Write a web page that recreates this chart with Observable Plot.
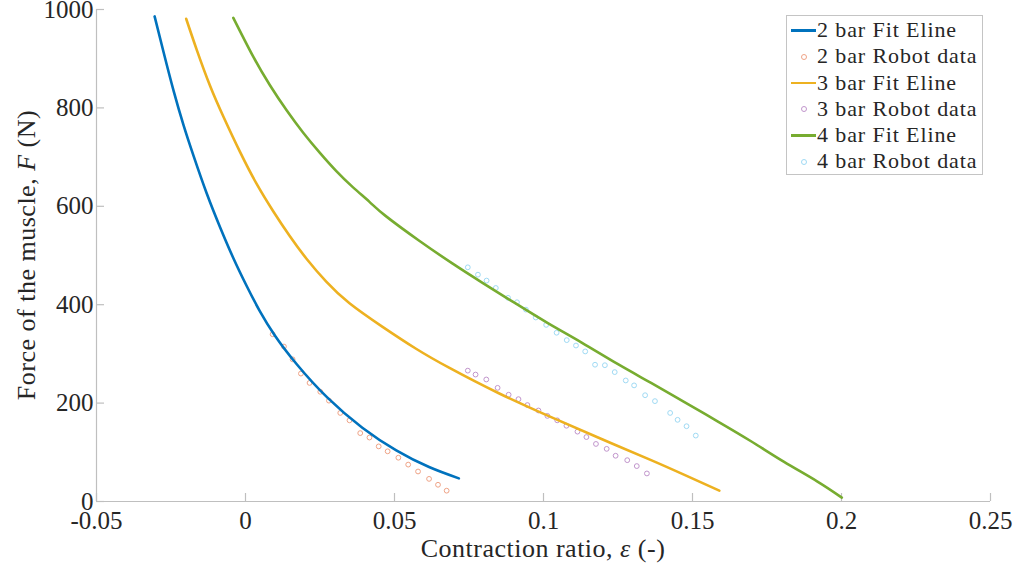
<!DOCTYPE html>
<html>
<head>
<meta charset="utf-8">
<script src="https://cdn.jsdelivr.net/npm/d3@7"></script>
<script src="https://cdn.jsdelivr.net/npm/@observablehq/plot@0.6"></script>
<style>
  body { margin: 0; background: #fff; }
  #wrap { position: relative; width: 1016px; height: 573px; font-family: "Liberation Serif", "Times New Roman", Tinos, "DejaVu Serif", serif; color: #262626; }
  .lab { position: absolute; white-space: nowrap; font-size: 26px; letter-spacing: 0.5px; }
  #xlab { left: 543px; top: 549px; transform: translate(-50%, -50%); }
  #ylab { left: 27px; top: 255px; transform: translate(-50%, -50%) rotate(-90deg); }
  #legend { position: absolute; left: 786px; top: 15px; width: 197px; height: 160px; border: 1px solid #c4c4c4; background: #fff; box-sizing: border-box; padding-top: 1px; }
  .row { position: relative; height: 26.3px; line-height: 26.3px; font-size: 22px; letter-spacing: 0.9px; }
  .row span.t { position: absolute; left: 30px; top: 0; }
  .sw { position: absolute; left: 4px; top: 12px; width: 25px; height: 2.6px; }
  .mk { position: absolute; left: 13.5px; top: 10.5px; width: 4px; height: 4px; border-radius: 50%; border: 1px solid; }
</style>
</head>
<body>
<div id="wrap"></div>
<script>
// ---- data ----
const xTicks = [-0.05, 0, 0.05, 0.1, 0.15, 0.2, 0.25];
const yTicks = [0, 200, 400, 600, 800, 1000];

// Fit lines
const fit2X = [-0.0305, -0.0274, -0.0241, -0.0208, -0.0174, -0.0130, -0.0085, -0.0041, 0.0004, 0.0048, 0.0099, 0.0172, 0.0275, 0.0392, 0.0506, 0.0616, 0.0716];
const fit2F = [986, 911, 834, 765, 702, 626, 557, 495, 438, 387, 337, 279, 211, 150, 104, 70, 47];
const fit3X = [-0.0199, -0.0163, -0.0119, -0.0074, -0.0018, 0.0037, 0.0093, 0.0149, 0.0204, 0.0271, 0.0349, 0.0460, 0.0571, 0.0683, 0.0850, 0.1016, 0.1183, 0.1361, 0.1473, 0.1590];
const fit3F = [981, 917, 845, 782, 710, 646, 590, 539, 494, 447, 403, 355, 311, 272, 220, 174, 130, 84, 54, 22];
const fit4X = [-0.0041, 0.0026, 0.0082, 0.0138, 0.0193, 0.0249, 0.0304, 0.0360, 0.0416, 0.0471, 0.0583, 0.0694, 0.0794, 0.0905, 0.1016, 0.1128, 0.1250, 0.1361, 0.1473, 0.1584, 0.1695, 0.1806, 0.1918, 0.2001];
const fit4F = [983, 904, 846, 795, 750, 709, 672, 639, 609, 580, 530, 484, 445, 403, 362, 323, 279, 241, 202, 163, 123, 81, 41, 8];

// Robot data
const rob2X = [0.0091, 0.0129, 0.0158, 0.0186, 0.0215, 0.0251, 0.0280, 0.0318, 0.0349, 0.0385, 0.0416, 0.0447, 0.0477, 0.0513, 0.0546, 0.0579, 0.0616, 0.0646, 0.0675];
const rob2F = [340, 315, 289, 260, 241, 223, 205, 180, 165, 139, 130, 112, 102, 89, 75, 61, 46, 34, 22];
const rob3X = [0.0746, 0.0772, 0.0808, 0.0846, 0.0883, 0.0916, 0.0946, 0.0983, 0.1013, 0.1046, 0.1077, 0.1114, 0.1144, 0.1176, 0.1212, 0.1242, 0.1281, 0.1313, 0.1347];
const rob3F = [266, 258, 248, 231, 217, 208, 196, 185, 174, 165, 154, 142, 131, 117, 107, 93, 84, 72, 57];
const rob4X = [0.0746, 0.0780, 0.0809, 0.0840, 0.0881, 0.0911, 0.0941, 0.0974, 0.1009, 0.1044, 0.1078, 0.1109, 0.1140, 0.1173, 0.1206, 0.1239, 0.1276, 0.1304, 0.1341, 0.1374, 0.1425, 0.1450, 0.1480, 0.1511];
const rob4F = [476, 461, 449, 434, 414, 405, 390, 374, 359, 343, 328, 317, 305, 278, 277, 263, 246, 236, 216, 204, 180, 166, 153, 134];

const seriesNames = ["2 bar Fit Eline", "2 bar Robot data", "3 bar Fit Eline", "3 bar Robot data", "4 bar Fit Eline", "4 bar Robot data"];
const seriesColors = ["#0072BD", "#EFA386", "#EDB120", "#C195CC", "#77AC30", "#9FDAF4"];

const toRows = (xs, fs) => xs.map((x, i) => ({x, f: fs[i]}));
const fits = [toRows(fit2X, fit2F), toRows(fit3X, fit3F), toRows(fit4X, fit4F)];
const robs = [toRows(rob2X, rob2F), toRows(rob3X, rob3F), toRows(rob4X, rob4F)];

const fontStack = "'Liberation Serif', 'Times New Roman', Tinos, 'DejaVu Serif', serif";
const axisGray = "#bfbfbf";
const chart = Plot.plot({
  width: 1016,
  height: 573,
  marginLeft: 96,
  marginRight: 26,
  marginTop: 9,
  marginBottom: 72,
  x: {domain: [-0.05, 0.25]},
  y: {domain: [0, 1000]},
  style: {fontFamily: fontStack, fontSize: "25px", color: "#262626", background: "#fff", overflow: "visible"},
  marks: [
    Plot.axisX({ticks: xTicks, tickSize: 0, tickPadding: 10, tickFormat: d => String(d), label: null}),
    Plot.axisY({ticks: yTicks, tickSize: 0, tickPadding: 3, tickFormat: d => String(d), label: null}),
    Plot.ruleY([0], {stroke: axisGray, strokeWidth: 1.2}),
    Plot.ruleX([-0.05], {stroke: axisGray, strokeWidth: 1.2}),
    Plot.ruleX(xTicks, {x: d => d, y1: 0, y2: 0, insetTop: -8, stroke: axisGray, strokeWidth: 1.2}),
    Plot.ruleY(yTicks, {y: d => d, x1: -0.05, x2: -0.05, insetRight: -8, stroke: axisGray, strokeWidth: 1.2}),
    ...robs.map((r, i) => Plot.dot(r, {x: "x", y: "f", r: 2.4, stroke: seriesColors[2 * i + 1], strokeWidth: 1, fill: "none"})),
    ...fits.map((r, i) => Plot.line(r, {x: "x", y: "f", stroke: seriesColors[2 * i], strokeWidth: 2.6, curve: "natural"}))
  ]
});

const wrap = document.getElementById("wrap");
wrap.appendChild(chart);

const xl = document.createElement("div");
xl.className = "lab"; xl.id = "xlab";
xl.innerHTML = "Contraction ratio, <i>ε</i> (-)";
wrap.appendChild(xl);
const yl = document.createElement("div");
yl.className = "lab"; yl.id = "ylab";
yl.innerHTML = "Force of the muscle, <i>F</i> (N)";
wrap.appendChild(yl);

const leg = document.createElement("div");
leg.id = "legend";
seriesNames.forEach((name, i) => {
  const row = document.createElement("div");
  row.className = "row";
  const sym = i % 2 === 0
    ? `<span class="sw" style="background:${seriesColors[i]}"></span>`
    : `<span class="mk" style="border-color:${seriesColors[i]}"></span>`;
  row.innerHTML = sym + `<span class="t">${name}</span>`;
  leg.appendChild(row);
});
wrap.appendChild(leg);
</script>
</body>
</html>
